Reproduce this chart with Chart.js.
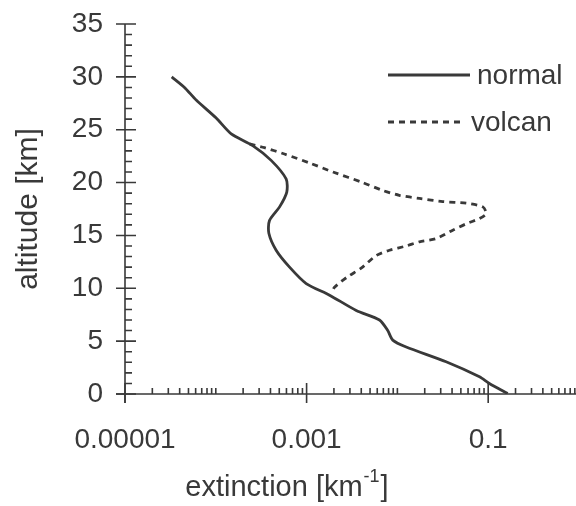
<!DOCTYPE html>
<html>
<head>
<meta charset="utf-8">
<script src="https://cdn.jsdelivr.net/npm/chart.js@4/dist/chart.umd.min.js"></script>
<style>
  html, body { margin: 0; padding: 0; background: #ffffff; }
  #wrap { position: relative; width: 576px; height: 506px; }
</style>
</head>
<body>
<div id="wrap"><canvas id="c"></canvas></div>
<script>
// ---- data ----
const normalExt = [3.27e-5, 4.52e-5, 6.08e-5, 1.01e-4, 1.48e-4, 2.55e-4, 4.07e-4, 5.95e-4, 6.05e-4, 5.04e-4,
                   3.90e-4, 3.84e-4, 4.62e-4, 6.49e-4, 9.9e-4, 1.79e-3, 3.52e-3, 6.35e-3, 7.83e-3, 8.89e-3,
                   1.25e-2, 3.44e-2, 8.02e-2, 0.103, 0.164];
const normalAlt = [30, 29.0, 27.8, 26.1, 24.6, 23.5, 22.1, 20.35, 19.1, 17.7,
                   16.4, 15.2, 13.6, 12.0, 10.45, 9.35, 7.9, 7.0, 6.0, 5.1,
                   4.45, 3.05, 1.63, 1.0, 0.05];
const volcanExt = [2.35e-4, 3.44e-4, 5.7e-4, 1.12e-3, 1.95e-3, 4.16e-3, 6.9e-3, 1.05e-2, 1.75e-2, 3.16e-2,
                   5.73e-2, 8.73e-2, 9.5e-2, 8.02e-2, 5.73e-2, 4.07e-2, 2.67e-2, 1.75e-2, 1.25e-2, 8.18e-3,
                   5.85e-3, 3.99e-3, 2.84e-3, 2.03e-3, 1.87e-3];
const volcanAlt = [23.65, 23.3, 22.7, 21.8, 21.0, 20.0, 19.25, 18.8, 18.5, 18.2,
                   18.05, 17.7, 17.05, 16.6, 16.1, 15.5, 14.7, 14.4, 14.0, 13.6,
                   13.1, 11.9, 11.1, 10.1, 9.5];
const seriesLabels = ['normal', 'volcan'];
const xTickValues = [1e-5, 1e-3, 1e-1];
const xTickLabels = ['0.00001', '0.001', '0.1'];
const yTickValues = [0, 5, 10, 15, 20, 25, 30, 35];
const xTitleMain = 'extinction [km';
const xTitleSup = '-1';
const xTitleEnd = ']';
const yTitle = 'altitude [km]';

const INK = '#393939';
const FONT = '"Liberation Sans", Arial, Helvetica, sans-serif';

function pts(xs, ys) { return xs.map((v, i) => ({ x: v, y: ys[i] })); }

const axesPlugin = {
  id: 'axesPlugin',
  afterDraw(chart) {
    const ctx = chart.ctx;
    const xs = chart.scales.x, ys = chart.scales.y;
    const ca = chart.chartArea;
    const x0 = ca.left, y0 = ys.getPixelForValue(0);
    ctx.save();
    ctx.strokeStyle = INK;
    ctx.lineWidth = 1.6;
    ctx.lineCap = 'butt';
    // axis lines
    ctx.beginPath();
    ctx.moveTo(x0, ys.getPixelForValue(35));
    ctx.lineTo(x0, y0 + 9);
    ctx.moveTo(x0 - 9, y0);
    ctx.lineTo(ca.right, y0);
    ctx.stroke();
    // y ticks
    ctx.beginPath();
    for (let v = 0; v <= 35; v++) {
      const py = ys.getPixelForValue(v);
      if (v % 5 === 0) { ctx.moveTo(x0 - 9, py); ctx.lineTo(x0 + 11, py); }
      else { ctx.moveTo(x0, py); ctx.lineTo(x0 + 7, py); }
    }
    // x ticks
    for (let k = -5; k <= 0; k++) {
      for (let m = 1; m <= 9; m++) {
        const v = m * Math.pow(10, k);
        if (v > xs.max) continue;
        const px = xs.getPixelForValue(v);
        const major = xTickValues.some(t => Math.abs(t - v) / t < 1e-6);
        if (major) { ctx.moveTo(px, y0 - 11); ctx.lineTo(px, y0 + 9); }
        else { ctx.moveTo(px, y0); ctx.lineTo(px, y0 - 6); }
      }
    }
    ctx.stroke();

    // x title with superscript
    ctx.fillStyle = INK;
    ctx.textBaseline = 'alphabetic';
    ctx.textAlign = 'left';
    const f1 = '29px ' + FONT, f2 = '18px ' + FONT;
    ctx.font = f1; const w1 = ctx.measureText(xTitleMain).width; const w3 = ctx.measureText(xTitleEnd).width;
    ctx.font = f2; const w2 = ctx.measureText(xTitleSup).width;
    const total = w1 + w2 + 2 + w3;
    const cx = 287;
    let tx = cx - total / 2;
    const base = 496;
    ctx.font = f1; ctx.fillText(xTitleMain, tx, base); tx += w1 + 1;
    ctx.font = f2; ctx.fillText(xTitleSup, tx, base - 14); tx += w2 + 1;
    ctx.font = f1; ctx.fillText(xTitleEnd, tx, base);

    // legend
    const lx1 = 388;
    const fl = '28px ' + FONT;
    const rows = [{ y: 75, x2: 470, tx: 477 }, { y: 122, x2: 465, tx: 471 }];
    chart.data.datasets.forEach((ds, i) => {
      const r = rows[i];
      ctx.beginPath();
      ctx.lineWidth = ds.borderWidth;
      ctx.setLineDash(ds.borderDash || []);
      ctx.moveTo(lx1, r.y); ctx.lineTo(r.x2, r.y);
      ctx.stroke();
      ctx.setLineDash([]);
      ctx.font = fl;
      ctx.textBaseline = 'middle';
      ctx.fillText(ds.label, r.tx, r.y + 1);
    });
    ctx.restore();
  }
};

new Chart(document.getElementById('c'), {
  type: 'scatter',
  data: {
    datasets: [
      { label: seriesLabels[0], data: pts(normalExt, normalAlt), showLine: true, borderColor: INK,
        borderWidth: 2.8, pointRadius: 0, tension: 0.25, fill: false },
      { label: seriesLabels[1], data: pts(volcanExt, volcanAlt), showLine: true, borderColor: INK,
        borderWidth: 2.8, borderDash: [6, 5], pointRadius: 0, tension: 0.25, fill: false }
    ]
  },
  options: {
    responsive: true,
    maintainAspectRatio: false,
    animation: false,
    layout: { padding: { top: 24, right: 0, left: 0, bottom: 0 } },
    plugins: { legend: { display: false }, tooltip: { enabled: false } },
    scales: {
      x: {
        type: 'logarithmic',
        min: 1e-5,
        max: 0.927,
        grid: { display: false, drawTicks: false },
        border: { display: false },
        afterBuildTicks: (s) => { s.ticks = xTickValues.map(v => ({ value: v })); },
        afterFit: (s) => { s.height = 112; s.paddingRight = 0; },
        ticks: {
          autoSkip: false, maxRotation: 0, padding: 29, color: INK,
          font: { family: FONT, size: 28 },
          callback: (v) => { const i = xTickValues.findIndex(t => Math.abs(t - v) / t < 1e-6); return i >= 0 ? xTickLabels[i] : ''; }
        },
        title: { display: false }
      },
      y: {
        type: 'linear',
        min: 0,
        max: 35,
        grid: { display: false, drawTicks: false },
        border: { display: false },
        afterBuildTicks: (s) => { s.ticks = yTickValues.map(v => ({ value: v })); },
        afterFit: (s) => { s.width = 125; s.paddingTop = 0; s.paddingBottom = 0; },
        ticks: { padding: 22, color: INK, font: { family: FONT, size: 28 }, callback: (v) => String(v) },
        title: { display: true, text: yTitle, color: INK, font: { family: FONT, size: 30 }, padding: { top: 11, bottom: 0 } }
      }
    }
  },
  plugins: [axesPlugin]
});
</script>
</body>
</html>
